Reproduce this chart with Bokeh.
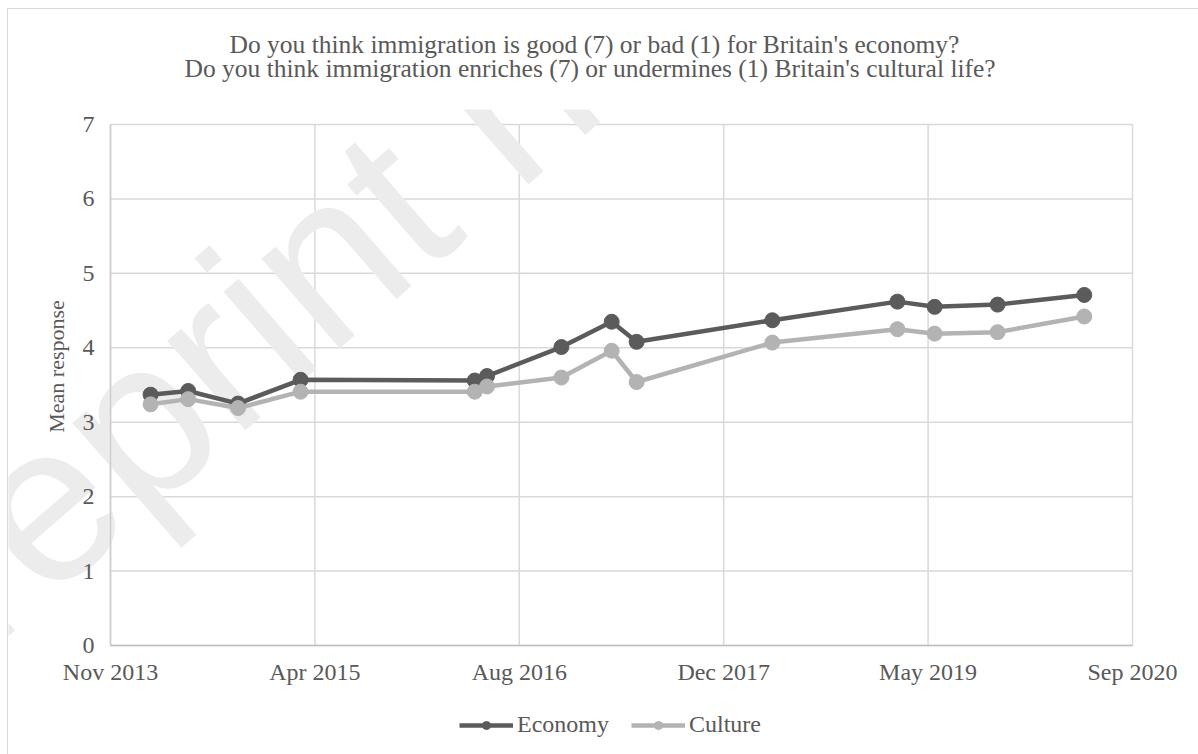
import datetime as dt
from bokeh.plotting import figure
from bokeh.models import (FixedTicker, DatetimeTickFormatter, Label, Legend,
                          LegendItem, Range1d, Title)
from bokeh.embed import file_html
from bokeh.resources import INLINE

# ---------------- data ----------------
survey_dates = ["2014-02-26", "2014-05-29", "2014-09-28", "2015-02-28",
                "2016-04-29", "2016-05-29", "2016-11-27", "2017-03-30",
                "2017-05-30", "2018-04-27", "2019-02-27", "2019-05-29",
                "2019-10-30", "2020-05-29"]
economy = [3.37, 3.42, 3.25, 3.57, 3.56, 3.62, 4.01, 4.35, 4.08, 4.37,
           4.62, 4.55, 4.58, 4.71]
culture = [3.24, 3.31, 3.19, 3.41, 3.41, 3.48, 3.60, 3.96, 3.54, 4.07,
           4.25, 4.19, 4.21, 4.42]
title_lines = ["Do you think immigration is good (7) or bad (1) for Britain's economy?",
               "Do you think immigration enriches (7) or undermines (1) Britain's cultural life?"]
tick_dates = ["2013-11-20", "2015-04-04", "2016-08-16", "2017-12-29",
              "2019-05-13", "2020-09-24"]
y_ticks = [0, 1, 2, 3, 4, 5, 6, 7]
y_label = "Mean response"
series_names = ["Economy", "Culture"]
watermark = "Preprint not peer reviewed"

# ---------------- helpers ----------------
FONT = "Liberation Serif"
TXT = "#595959"
FS = "24px"
GRID = "#d9d9d9"
EPOCH = dt.datetime(1970, 1, 1)


def to_dt(s):
    return dt.datetime.strptime(s, "%Y-%m-%d")


def to_ms(s):
    return (to_dt(s) - EPOCH).total_seconds() * 1000.0


xs = [to_dt(s) for s in survey_dates]
ticks_ms = [to_ms(s) for s in tick_dates]
tick_dts = [to_dt(s) for s in tick_dates]

# The frame covers the whole canvas below the title; axes sit at fixed data positions.
CW, CH = 1191, 746          # canvas size (page minus 7/8 px margins)
AX_L, AX_W = 102, 1022      # x-axis position/length inside the canvas (px)
AX_TOP = 115                # canvas y of the value 7 line
TOP = 100                   # space kept for the title
span_days = (tick_dts[-1] - tick_dts[0]).days
day_px = AX_W / span_days
x_lo = tick_dts[0] - dt.timedelta(days=AX_L / day_px)
x_hi = tick_dts[-1] + dt.timedelta(days=(CW - AX_L - AX_W) / day_px)
Y_MIN = -1.478
unit_px = (CH - AX_TOP) / (y_ticks[-1] - Y_MIN)
Y_MAX = y_ticks[-1] + (AX_TOP - TOP) / unit_px

p = figure(frame_width=CW, frame_height=CH - TOP, x_axis_type="datetime",
           x_range=Range1d(x_lo, x_hi),
           y_range=Range1d(Y_MIN, Y_MAX), title=None,
           output_backend="svg", toolbar_location=None,
           min_border_left=0, min_border_right=0,
           min_border_top=TOP, min_border_bottom=0)
p.margin = (8, 0, 0, 7)
p.styles = {"border-top": "1px solid #d9d9d9", "border-left": "1px solid #d9d9d9"}
p.outline_line_color = None
p.background_fill_color = "white"
p.border_fill_color = "white"

# watermark
p.add_layout(Label(x=-102, y=-33, x_units="screen", y_units="screen",
                   text=watermark, angle=41, angle_units="deg",
                   text_font="Liberation Sans", text_font_size="225px",
                   text_color="#ececec", level="underlay"))

# grid lines, limited to the plotted area
p.xgrid.visible = False
p.ygrid.visible = False
p.segment(x0=tick_dts, y0=[y_ticks[0]] * len(tick_dts),
          x1=tick_dts, y1=[y_ticks[-1]] * len(tick_dts),
          line_color=GRID, line_width=1.5, level="underlay")
p.segment(x0=[tick_dts[0]] * len(y_ticks), y0=y_ticks,
          x1=[tick_dts[-1]] * len(y_ticks), y1=y_ticks,
          line_color=GRID, line_width=1.5, level="underlay")

# axes
xa = p.xaxis[0]
xa.fixed_location = 0
xa.bounds = (tick_dts[0], tick_dts[-1])
xa.ticker = FixedTicker(ticks=ticks_ms)
fmt = "%b %Y"
xa.formatter = DatetimeTickFormatter(microseconds=fmt, milliseconds=fmt, seconds=fmt,
                                     minsec=fmt, minutes=fmt, hourmin=fmt, hours=fmt,
                                     days=fmt, months=fmt, years=fmt)
xa.axis_line_color = "#bfbfbf"
xa.axis_line_width = 1.5
xa.major_tick_line_color = None
xa.minor_tick_line_color = None
xa.major_tick_out = 0
xa.major_label_standoff = 14
xa.major_label_text_font = FONT
xa.major_label_text_font_size = FS
xa.major_label_text_color = TXT

ya = p.yaxis[0]
ya.fixed_location = ticks_ms[0]
ya.bounds = (y_ticks[0], y_ticks[-1])
ya.ticker = FixedTicker(ticks=y_ticks)
ya.axis_line_color = "#cccccc"
ya.axis_line_width = 1.5
ya.major_tick_line_color = None
ya.minor_tick_line_color = None
ya.major_tick_out = 0
ya.major_label_standoff = 16
ya.major_label_text_font = FONT
ya.major_label_text_font_size = FS
ya.major_label_text_color = TXT

# y-axis title
p.add_layout(Label(x=48, y=389, x_units="screen", y_units="screen",
                   text=y_label, angle=90, angle_units="deg",
                   text_align="center", text_baseline="middle",
                   text_font=FONT, text_font_size="22px", text_color=TXT))

# series
colors = ["#5b5b5b", "#b3b3b3"]
items = []
for name, vals, col in zip(series_names, [economy, culture], colors):
    lr = p.line(xs, vals, line_color=col, line_width=4.5)
    cr = p.scatter(xs, vals, size=15, fill_color=col, line_color=col)
    items.append(LegendItem(label=name, renderers=[lr, cr]))

legend = Legend(items=items, orientation="horizontal", location=(451, 17),
                glyph_width=54, glyph_height=20, label_standoff=4, spacing=22,
                label_text_font=FONT, label_text_font_size=FS,
                label_text_color=TXT, border_line_color=None,
                background_fill_alpha=0, padding=0, margin=0)
p.add_layout(legend)

# title lines (two stacked titles above the plot)
TFS = "25.5px"
t2 = Title(text=title_lines[1], align="left", offset=176, standoff=54,
           text_font=FONT, text_font_size=TFS, text_font_style="normal",
           text_color=TXT)
t1 = Title(text=title_lines[0], align="left", offset=221, standoff=-68,
           text_font=FONT, text_font_size=TFS, text_font_style="normal",
           text_color=TXT)
p.add_layout(t2, "above")
p.add_layout(t1, "above")

open("out.html", "w").write(file_html(p, INLINE))
